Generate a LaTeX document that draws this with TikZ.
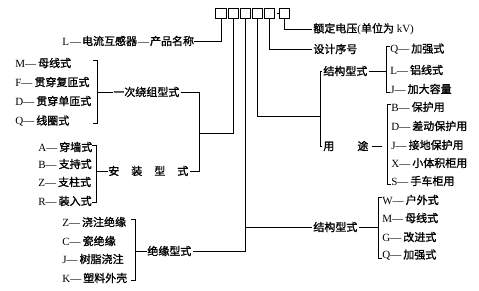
\documentclass[tikz,border=0pt]{standalone}
\usepackage{fontspec}
\setmainfont{Liberation Serif}
\newfontfamily\cjk[FakeBold=1.3]{Noto Sans CJK SC}
\newcommand\zht[1]{{\cjk #1}}
\begin{document}
\begin{tikzpicture}[x=1pt,y=-1pt,line width=0.7pt,
  lbl/.style={inner sep=0pt,anchor=west,font=\fontsize{11}{12}\selectfont},
  box/.style={draw,minimum width=10.5pt,minimum height=10.5pt,inner sep=0pt},
  conn/.style={line width=0.7pt}]
\useasboundingbox (0,0) rectangle (479,291);
% code boxes
\node[box] (b1) at (221,13.5) {};
\node[box] (b2) at (233.5,13.5) {};
\node[box] (b3) at (245.5,13.5) {};
\node[box] (b4) at (257.5,13.5) {};
\node[box] (b5) at (269.5,13.5) {};
\node[box] (b6) at (284.5,13.5) {};
\draw[conn] (b5.east) ++(1.5,0) -- ++(3,0);
% top-level labels
\node[lbl] (name) at (62,41) {L\hspace{1pt}—\hspace{1pt}\zht{电流互感器}\hspace{1pt}—\hspace{1pt}\zht{产品名称}};
\node[lbl] (rated) at (313,29) {\zht{额定电压}(\zht{单位为} kV)};
\node[lbl] (design) at (313,49) {\zht{设计序号}};
\node[lbl] (struct1) at (323,71) {\zht{结构型式}};
\node[lbl] (use) at (323,146) {\zht{用}\hspace{23pt}\zht{途}};
\node[lbl] (struct2) at (313,227) {\zht{结构型式}};
\node[lbl] (winding) at (113,92) {\zht{一次绕组型式}};
\node[lbl] (install) at (108,171) {\zht{安}\hspace{12pt}\zht{装}\hspace{12pt}\zht{型}\hspace{12pt}\zht{式}};
\node[lbl] (insul) at (147,251) {\zht{绝缘型式}};
% left group 1
\node[lbl] (m1) at (15,63) {M—\hspace{2pt}\zht{母线式}};
\node[lbl] (f1) at (15,82) {F—\hspace{2pt}\zht{贯穿复匝式}};
\node[lbl] (d1) at (15,101) {D—\hspace{2pt}\zht{贯穿单匝式}};
\node[lbl] (q1) at (15,121) {Q—\hspace{2pt}\zht{线圈式}};
% left group 2
\node[lbl] (a2) at (38,147) {A—\hspace{2pt}\zht{穿墙式}};
\node[lbl] (b2t) at (38,164) {B—\hspace{2pt}\zht{支持式}};
\node[lbl] (z2) at (38,182) {Z—\hspace{2pt}\zht{支柱式}};
\node[lbl] (r2) at (38,201) {R—\hspace{2pt}\zht{装入式}};
% left group 3
\node[lbl] (z3) at (62,222) {Z—\hspace{2pt}\zht{浇注绝缘}};
\node[lbl] (c3) at (62,241) {C—\hspace{2pt}\zht{瓷绝缘}};
\node[lbl] (j3) at (62,259) {J—\hspace{2pt}\zht{树脂浇注}};
\node[lbl] (k3) at (62,278) {K—\hspace{2pt}\zht{塑料外壳}};
% right group 1
\node[lbl] (q4) at (390,49) {Q—\hspace{2pt}\zht{加强式}};
\node[lbl] (l4) at (390,70) {L—\hspace{2pt}\zht{铝线式}};
\node[lbl] (j4) at (390,89) {J—\hspace{2pt}\zht{加大容量}};
% right group 2
\node[lbl] (b5t) at (391,107) {B—\hspace{2pt}\zht{保护用}};
\node[lbl] (d5) at (391,126) {D—\hspace{2pt}\zht{差动保护用}};
\node[lbl] (j5) at (391,145) {J—\hspace{2pt}\zht{接地保护用}};
\node[lbl] (x5) at (391,163) {X—\hspace{2pt}\zht{小体积柜用}};
\node[lbl] (s5) at (391,181) {S—\hspace{2pt}\zht{手车柜用}};
% right group 3
\node[lbl] (w6) at (382,200) {W—\hspace{2pt}\zht{户外式}};
\node[lbl] (m6) at (382,218) {M—\hspace{2pt}\zht{母线式}};
\node[lbl] (g6) at (382,237) {G—\hspace{2pt}\zht{改进式}};
\node[lbl] (q6) at (382,255) {Q—\hspace{2pt}\zht{加强式}};
% brackets
\draw[conn] (93,60) -- (97,60) -- (97,123) -- (93,123);
\draw[conn] (92,145) -- (96,145) -- (96,202) -- (92,202);
\draw[conn] (131,219) -- (135,219) -- (135,280) -- (131,280);
\draw[conn] (390,46) -- (386,46) -- (386,92) -- (390,92);
\draw[conn] (391,104) -- (387,104) -- (387,184) -- (391,184);
\draw[conn] (382,197) -- (378,197) -- (378,258) -- (382,258);
% bracket stems
\coordinate (k1) at (97,92);
\coordinate (k2) at (96,171);
\coordinate (k3) at (135,251);
\coordinate (k4) at (386,71);
\coordinate (k5) at (387,146);
\coordinate (k6) at (378,227);
\draw[conn] (k1) -- (winding.west);
\draw[conn] (k2) -- (install.west);
\draw[conn] (k3) -- (insul.west);
\draw[conn] (struct1.east) ++(1,0) -- (k4);
\draw[conn] (use.east) ++(3,0) -- ++(10,0);
\draw[conn] (struct2.east) ++(1,0) -- (k6);
% connectors from code boxes
\coordinate (c2) at (199,133);
\coordinate (v2t) at (199,92);
\coordinate (v2b) at (199,171);
\draw[conn] (b1.south) |- (name.east);
\draw[conn] (b2.south) |- (c2);
\draw[conn] (winding.east) ++(1,0) -| (v2t) -- (v2b) -- ([xshift=1pt]install.east);
\draw[conn] (b3.south) |- ([xshift=1pt]insul.east);
\coordinate (c3) at (245.5,227);
\draw[conn] (c3) -- ([xshift=-1pt]struct2.west);
\coordinate (c4) at (320,116);
\coordinate (v4t) at (320,71);
\coordinate (v4b) at (320,146);
\draw[conn] (b4.south) |- (c4);
\draw[conn] ([xshift=-1pt]struct1.west) -- (v4t) -- (v4b) -- ([xshift=-1pt]use.west);
\draw[conn] (b5.south) |- ([xshift=-1pt]design.west);
\draw[conn] (b6.south) |- ([xshift=-1pt]rated.west);
\end{tikzpicture}
\end{document}
